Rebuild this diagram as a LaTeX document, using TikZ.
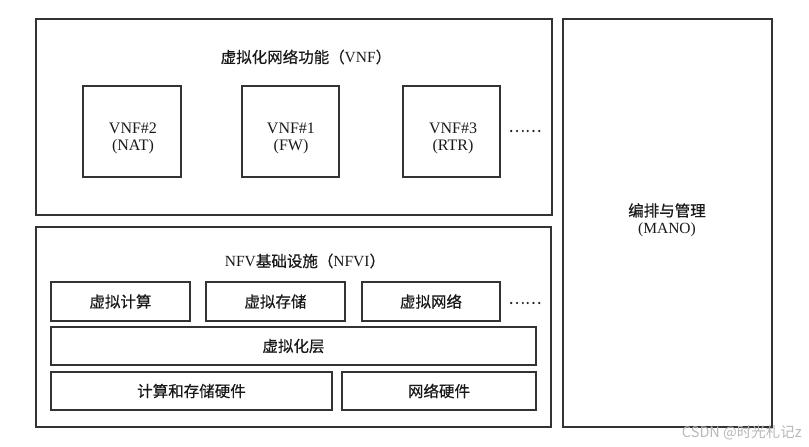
\documentclass[tikz,border=0pt]{standalone}
\usepackage{fontspec}
\setmainfont{Liberation Serif}
\newfontfamily\cjk[FakeBold=0.6]{Noto Sans CJK SC}
\newfontfamily\wmfont{Noto Sans CJK SC}
\begin{document}
\begin{tikzpicture}[x=1pt,y=-1pt,
  box/.style={draw=black!80,line width=1.3pt,inner sep=0pt,align=center,text=black!90,
    font=\fontsize{15.5}{17}\selectfont},
  lbl/.style={inner sep=0pt,align=center,text=black!90,font=\fontsize{15.5}{17}\selectfont},
  wm/.style={inner sep=0pt,text=black!28,font=\wmfont\fontsize{14.5}{16}\selectfont}]
\useasboundingbox (0,0) rectangle (809,447);
% outer boxes
\node[box,minimum width=516,minimum height=196] (vnf) at (294,117) {};
\node[box,minimum width=515,minimum height=200] (nfvi) at (293.5,327) {};
\node[box,minimum width=209,minimum height=408] (mano) at (667.5,223) {};
\node[lbl] (manot) at (667,220) {{\cjk 编排与管理}\\(MANO)};
% titles
\node[lbl] (vnft) at (306,57) {{\cjk 虚拟化网络功能（}VNF{\cjk ）}};
\node[lbl] (nfvit) at (305,261) {NFV{\cjk 基础设施（}NFVI{\cjk ）}};
% VNF boxes
\node[box,minimum width=98,minimum height=91] (vnf2) at (132,131.5) {};
\node[lbl,font=\fontsize{16}{17.5}\selectfont] (vnf2t) at (133,138.5) {VNF\#2\\(NAT)};
\node[box,minimum width=97,minimum height=91] (vnf1) at (290.5,131.5) {};
\node[lbl,font=\fontsize{16}{17.5}\selectfont] (vnf1t) at (291,138.5) {VNF\#1\\(FW)};
\node[box,minimum width=97,minimum height=91] (vnf3) at (451.5,131.5) {};
\node[lbl,font=\fontsize{16}{17.5}\selectfont] (vnf3t) at (453,138.5) {VNF\#3\\(RTR)};
\node[lbl] (dots1) at (525,131) {\cjk ……};
% NFVI boxes
\node[box,minimum width=139,minimum height=39] (vcomp) at (120.5,301.5) {\cjk 虚拟计算};
\node[box,minimum width=139,minimum height=39] (vstor) at (275.5,301.5) {\cjk 虚拟存储};
\node[box,minimum width=138,minimum height=39] (vnet) at (431,301.5) {\cjk 虚拟网络};
\node[lbl] (dots2) at (525,303) {\cjk ……};
\node[box,minimum width=485,minimum height=38] (vlayer) at (293.5,346) {\cjk 虚拟化层};
\node[box,minimum width=281,minimum height=38] (hwcs) at (191.5,391) {\cjk 计算和存储硬件};
\node[box,minimum width=194,minimum height=38] (hwnet) at (439,391) {\cjk 网络硬件};
% watermark
\node[wm,anchor=east] (wmark) at (802,433) {CSDN @时光札记z};
\end{tikzpicture}
\end{document}
